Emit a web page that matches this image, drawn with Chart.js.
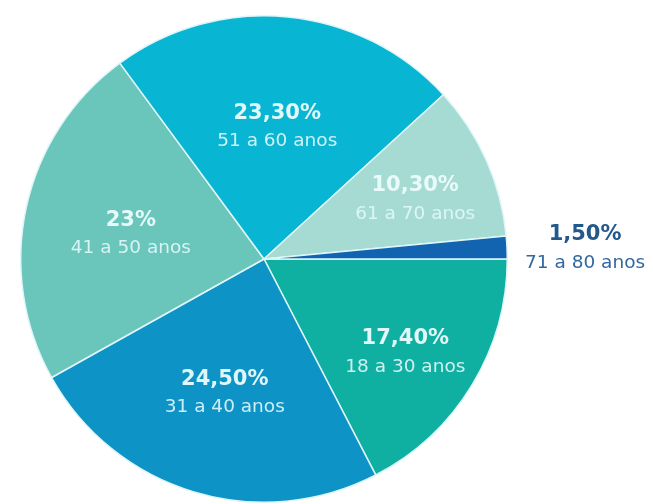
<!DOCTYPE html>
<html>
<head>
<meta charset="utf-8">
<script src="https://cdn.jsdelivr.net/npm/chart.js@4"></script>
<style>
  html, body { margin: 0; padding: 0; background: #ffffff; }
  #wrap { width: 653px; height: 504px; }
</style>
</head>
<body>
<div id="wrap"><canvas id="pieChart" width="653" height="504"></canvas></div>
<script>
// faixas etarias, em ordem a partir das 3 horas, sentido horario
const faixas = ["18 a 30 anos", "31 a 40 anos", "41 a 50 anos", "51 a 60 anos", "61 a 70 anos", "71 a 80 anos"];
const percentuais = [17.4, 24.5, 23, 23.3, 10.3, 1.5];
const textos = ["17,40%", "24,50%", "23%", "23,30%", "10,30%", "1,50%"];
const cores = ["#0fb0a2", "#0d93c6", "#6ac5bb", "#08b5d3", "#a6dbd3", "#1364b0"];

// escreve percentual + faixa em cada fatia
const rotulos = {
  id: "rotulos",
  afterDatasetsDraw(chart) {
    const ctx = chart.ctx;
    const arcs = chart.getDatasetMeta(0).data;
    ctx.save();
    ctx.textAlign = "center";
    ctx.textBaseline = "middle";
    arcs.forEach(function (arc, i) {
      const v = percentuais[i];
      const mid = (arc.startAngle + arc.endAngle) / 2;
      let x, y;
      let corPct = "rgba(236, 252, 252, 0.95)";
      let corNome = "rgba(226, 248, 250, 0.9)";
      if (v < 5) {
        // fatia pequena: rotulo fora da pizza
        x = arc.x + arc.outerRadius * 1.32;
        y = arc.y - 10;
        corPct = "#22588a";
        corNome = "#33679f";
      } else if (v < 20) {
        x = arc.x + Math.cos(mid) * arc.outerRadius * 0.68;
        y = arc.y + Math.sin(mid) * arc.outerRadius * 0.68 + 8;
      } else {
        x = arc.x + Math.cos(mid) * arc.outerRadius * 0.56;
        y = arc.y + Math.sin(mid) * arc.outerRadius * 0.56 + 4;
      }
      ctx.fillStyle = corPct;
      ctx.font = "bold 21px 'DejaVu Sans'";
      ctx.fillText(textos[i], x, y - 14);
      ctx.fillStyle = corNome;
      ctx.font = "18.5px 'DejaVu Sans'";
      ctx.fillText(faixas[i], x, y + 14);
    });
    ctx.restore();
  },
};

const data = {
  labels: faixas,
  datasets: [
    {
      data: percentuais,
      backgroundColor: cores,
      borderColor: "#dff6f8",
      borderWidth: 1.5,
      hoverOffset: 0,
      offset: 0,
    },
  ],
};

const config = {
  type: "pie",
  data: data,
  options: {
    responsive: false,
    animation: false,
    rotation: 90,
    layout: {
      padding: { top: 15, bottom: 1, left: 20, right: 145 },
    },
    plugins: {
      legend: { display: false },
      tooltip: { enabled: false },
    },
  },
  plugins: [rotulos],
};

const ctx = document.getElementById("pieChart").getContext("2d");
const pieChart = new Chart(ctx, config);
</script>
</body>
</html>
